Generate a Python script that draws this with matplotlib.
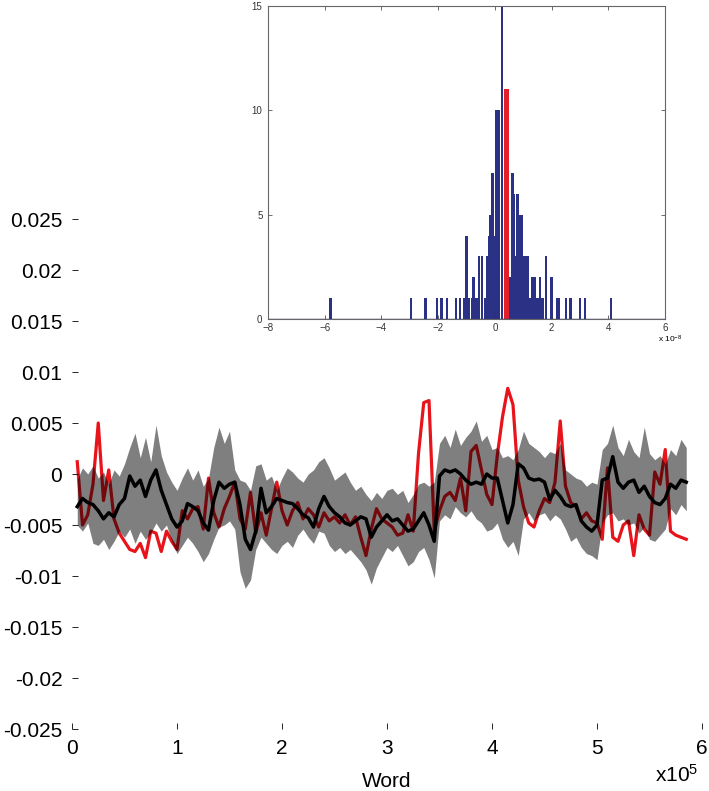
import numpy as np
import matplotlib
matplotlib.use('Agg')
import matplotlib.pyplot as plt

plt.rcParams['font.family'] = ['Liberation Sans', 'DejaVu Sans']
plt.rcParams['mathtext.default'] = 'regular'

# word position of each sample (every 5000 words)
words = np.linspace(5000, 585000, 117)

# values below are in units of 1e-3
mean_k = [-3.2, -2.4, -2.8, -3.0, -3.6, -4.4, -3.8, -4.2, -3.0, -2.4,
          -0.2, -1.2, -0.6, -2.2, -0.6, 0.4, -1.6, -3.0, -4.4, -5.2,
          -4.6, -2.9, -3.2, -3.6, -4.8, -5.5, -2.6, -0.8, -1.4, -1.0,
          -0.8, -3.0, -6.4, -7.4, -5.6, -1.4, -3.8, -3.2, -2.4, -2.6,
          -2.8, -2.9, -3.4, -4.0, -4.3, -5.2, -3.4, -2.2, -3.2, -3.8,
          -4.2, -4.8, -5.0, -4.6, -4.2, -4.4, -6.2, -5.2, -4.6, -4.0,
          -4.6, -4.4, -5.0, -5.6, -5.4, -4.6, -3.8, -5.0, -6.6, -0.2,
          0.4, 0.2, 0.4, 0.0, -0.6, -1.0, -0.8, -1.0, 0.0, -0.4,
          -0.4, -2.6, -4.8, -3.0, 1.0, 0.6, -0.4, -0.6, -0.5, -0.8,
          -2.5, -1.6, -2.2, -3.0, -3.2, -3.0, -4.6, -5.2, -5.6, -5.0,
          -0.6, -0.4, 1.7, -0.8, -1.4, -0.8, -0.6, -1.8, -1.2, -2.2,
          -2.8, -3.0, -2.4, -1.0, -1.4, -0.6, -0.8]

upper_k = [-0.5, 0.6, 0.0, 0.8, -0.4, 0.2, -1.0, 0.4, -0.2, 1.0,
           2.6, 4.0, 1.6, 3.6, 1.2, 4.8, 1.8, 0.2, -0.8, -1.6,
           -0.4, 0.6, -0.6, 0.4, -1.2, -0.4, 2.6, 4.6, 3.0, 4.2,
           0.4, -0.6, -0.8, -1.6, 0.8, 1.0, -0.6, -0.2, -1.6, -0.4,
           0.6, 0.2, -0.4, -0.8, 0.0, 0.4, 1.2, 1.6, 0.6, -0.6,
           -0.2, 0.2, -0.8, -1.6, -1.2, -2.0, -2.6, -1.8, -2.4, -1.6,
           -1.4, -2.0, -1.6, -2.8, -2.0, -1.0, -0.8, -1.2, -0.8, 3.0,
           3.8, 2.6, 4.4, 2.8, 3.6, 4.2, 5.2, 3.2, 3.8, 2.4,
           2.6, 1.6, 1.8, 1.4, 2.4, 4.2, 3.0, 2.6, 2.2, 1.6,
           2.2, 2.0, 3.0, 0.4, 0.0, -0.4, -0.6, -1.2, -0.8, -1.0,
           2.4, 3.0, 4.8, 2.6, 1.8, 3.4, 2.2, 1.6, 4.6, 2.0,
           1.4, 1.8, 1.0, 2.4, 1.8, 3.4, 2.6]

lower_k = [-5.0, -5.6, -4.8, -6.8, -7.0, -6.4, -7.4, -6.6, -5.6, -6.2,
           -5.4, -6.8, -5.6, -6.4, -5.8, -4.8, -5.6, -5.0, -6.6, -7.8,
           -7.0, -6.2, -6.8, -7.6, -8.6, -7.8, -6.4, -5.2, -5.0, -4.6,
           -5.4, -9.6, -11.2, -10.4, -7.4, -6.2, -6.8, -7.4, -7.8, -7.0,
           -6.6, -7.2, -6.0, -5.4, -6.2, -6.8, -5.6, -5.8, -7.0, -7.6,
           -7.2, -7.8, -7.4, -8.0, -8.6, -9.4, -10.8, -9.2, -8.2, -7.2,
           -7.6, -7.0, -8.0, -9.0, -8.6, -7.6, -7.2, -8.4, -10.2, -4.6,
           -4.0, -4.4, -3.2, -3.8, -4.2, -3.6, -4.4, -4.8, -5.6, -5.4,
           -4.8, -6.4, -7.2, -6.6, -8.0, -4.4, -3.8, -4.6, -4.0, -3.8,
           -4.6, -4.0, -4.4, -5.4, -6.6, -6.2, -7.2, -7.8, -8.0, -8.4,
           -4.8, -4.0, -3.8, -4.6, -4.4, -5.0, -4.8, -5.8, -5.2, -6.4,
           -6.6, -6.0, -5.4, -3.4, -4.0, -3.0, -3.6]

red_k = [1.2, -5.0, -4.0, -1.0, 5.0, -2.6, 0.4, -4.4, -5.8, -6.6,
         -7.4, -7.6, -6.8, -8.2, -5.6, -5.8, -7.6, -5.6, -6.6, -7.4,
         -3.6, -4.4, -3.4, -3.2, -5.4, -0.4, -3.8, -5.2, -3.4, -2.2,
         -0.8, -4.4, -5.4, -1.8, -5.8, -3.8, -6.0, -3.4, -0.8, -3.6,
         -5.0, -3.6, -2.8, -4.4, -3.4, -4.0, -5.2, -3.8, -4.6, -4.2,
         -4.8, -4.0, -5.0, -4.2, -6.2, -8.0, -5.4, -3.4, -4.4, -4.8,
         -5.2, -6.0, -5.8, -4.0, -5.6, 2.0, 7.0, 7.2, -5.6, -3.6,
         -2.2, -1.8, -2.6, -0.4, -3.6, 2.2, 2.8, 0.4, -2.0, -3.0,
         1.8, 5.6, 8.4, 6.8, -0.6, -3.2, -4.8, -5.2, -3.6, -2.4,
         -2.8, -0.8, 5.2, -1.2, -2.8, -3.2, -4.4, -3.8, -4.6, -4.8,
         -6.4, 0.6, -6.2, -6.6, -5.0, -4.6, -8.0, -4.0, -5.4, -6.0,
         0.2, -1.0, 2.4, -5.6, -6.0, -6.2, -6.4]

# inset histogram (x in units of 1e-8)
hist_centers = [-5.8, -2.95, -2.45, -2.05, -1.88, -1.7, -1.38, -1.22, -1.1, -1.0,
                -0.9, -0.8, -0.75, -0.65, -0.55, -0.45, -0.35, -0.28, -0.2, -0.15,
                -0.08, 0.0, 0.06, 0.15, 0.25, 0.55, 0.62, 0.68, 0.75, 0.8,
                0.87, 0.95, 1.05, 1.15, 1.25, 1.3, 1.4, 1.5, 1.6, 1.68,
                1.8, 2.0, 2.2, 2.25, 2.5, 2.67, 3.0, 3.18, 4.1]
hist_counts = [1, 1, 1, 1, 1, 1, 1, 1, 1, 4,
               1, 1, 2, 1, 3, 3, 1, 3, 4, 5,
               7, 4, 10, 10, 15, 2, 7, 6, 3, 6,
               5, 5, 3, 3, 1, 2, 2, 1, 2, 1,
               3, 2, 1, 1, 1, 1, 1, 1, 1]
red_center = 0.42
red_count = 11

w = words
mean = np.array(mean_k) * 1e-3
upper = np.array(upper_k) * 1e-3
lower = np.array(lower_k) * 1e-3
red = np.array(red_k) * 1e-3

fig = plt.figure(figsize=(7.09, 7.91), dpi=100)
ax = fig.add_axes([72/709, 1 - 729/791, 630/709, 510/791])
ax.plot(w, red, color='#e8141c', lw=2.3, zorder=1)
ax.fill_between(w, lower, upper, color='k', alpha=0.5, lw=0, zorder=2)
ax.plot(w, mean, color='k', lw=2.5, zorder=3)

ax.set_xlim(0, 6e5)
ax.set_ylim(-0.025, 0.025)
ax.set_xticks(np.arange(7) * 1e5)
ax.set_xticklabels([str(i) for i in range(7)])
yt = [0.025, 0.02, 0.015, 0.01, 0.005, 0, -0.005, -0.01, -0.015, -0.02, -0.025]
ax.set_yticks(yt)
ax.set_yticklabels(['0.025', '0.02', '0.015', '0.01', '0.005', '0',
                    '-0.005', '-0.01', '-0.015', '-0.02', '-0.025'])
for s in ax.spines.values():
    s.set_visible(False)
ax.tick_params(direction='in', length=4, width=0.6, labelsize=15, pad=7)
ax.set_xlabel('Word', fontsize=15, labelpad=10)
fig.text(655/709, 1 - 782/791, r'x10$^5$', fontsize=15)

# inset
axh = fig.add_axes([268/709, 1 - 319/791, 397/709, 313/791])
axh.bar(hist_centers, hist_counts, width=0.08, color='#2b3185', lw=0)
axh.bar([red_center], [red_count], width=0.19, color='#e3202a', lw=0)
axh.axhline(0, color='#2b3185', lw=1)
axh.set_xlim(-8, 6)
axh.set_ylim(0, 15)
axh.set_xticks(range(-8, 7, 2))
axh.set_yticks([0, 5, 10, 15])
axh.tick_params(direction='in', top=True, right=True, labelsize=7, length=3,
                width=0.5, colors='#333333')
axh.tick_params(axis='x', pad=3)
axh.tick_params(axis='y', pad=4)
for s in axh.spines.values():
    s.set_color('#666666')
    s.set_linewidth(0.8)
fig.text(682/709, 1 - 342/791, r'x 10$^{-8}$', fontsize=6, ha='right')

fig.savefig('out.png', dpi=100)
